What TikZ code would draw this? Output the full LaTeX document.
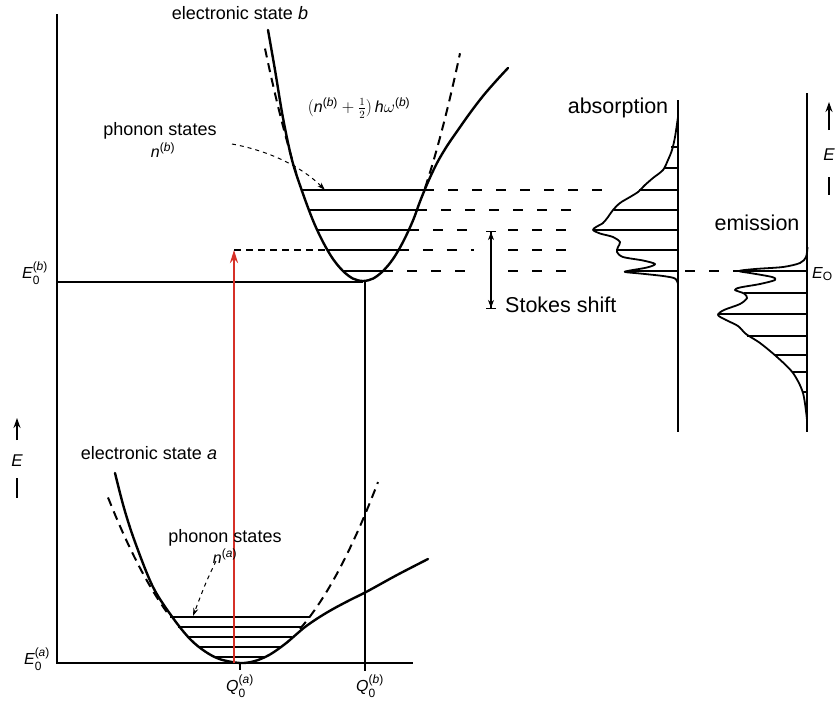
\documentclass[tikz,border=0pt]{standalone}
\usepackage{amsmath}
\usepackage{fontspec}
\setmainfont{Liberation Sans}
\usetikzlibrary{arrows.meta}
\definecolor{redarrow}{RGB}{214,48,39}
\newcommand\upsc[1]{\text{\fontsize{12}{13}\selectfont #1}}
\begin{document}
\begin{tikzpicture}[x=1pt,y=-1pt,
  axis/.style={line width=1.2pt},
  curve/.style={line width=2.4pt, line join=round, line cap=round},
  harm/.style={line width=2pt, dash pattern=on 9pt off 6pt},
  lvl/.style={line width=1.1pt},
  dlvl/.style={line width=1.1pt, dash pattern=on 10pt off 14pt},
  lbl/.style={font=\fontsize{18}{20}\selectfont, inner sep=0pt},
  big/.style={font=\fontsize{21.5}{24}\selectfont, inner sep=0pt},
  mlbl/.style={font=\fontsize{16}{18}\selectfont, inner sep=0pt},
  spec/.style={line width=1.8pt, line join=round},
  tipS/.style={-{Stealth[length=10pt,width=7pt]}},
]
\useasboundingbox (0,0) rectangle (835,704);

% axes
\draw[axis] (57,14) -- (57,663) -- (413,663);
\draw[axis] (57,282) -- (363,282);
\draw[axis] (365,282) -- (365,671);
\draw[axis] (240,663) -- (240,670);

% state b
\draw[curve] plot[smooth, tension=0.55] coordinates {(268,30) (275,70) (283,118) (292,160) (302,191) (313,220.5) (323,242) (333,259) (343,271) (353,278.6) (363,281) (373,278.6) (383,271) (393,259) (403,242) (413,220.5) (420,201.5) (428,182) (437,163) (447,146) (458,130) (470,113) (483,96) (496,81) (508,68)};
\draw[harm] plot[domain=265:298, samples=20] (\x, {281-(0.15556*(\x-363))^2});
\draw[harm] plot[domain=425:460, samples=20] (\x, {281-(0.15556*(\x-363))^2});
\foreach \y/\xl/\xr in {190/302/424, 210/308.8/417.2, 230/317.1/408.9, 250/327.2/398.8, 271/342.7/383.3}
  \draw[lvl] (\xl,\y) -- (\xr,\y);

% state a
\draw[curve] plot[smooth, tension=0.55] coordinates {(115,473) (124,508) (135,542) (153,587) (173,618) (190,639) (205,651.4) (220,659.2) (240,663) (255,661) (270,654.5) (285,644) (295,635.5) (305,627) (318,618) (333,609) (350,600) (367,591.5) (397,575) (428,559)};
\draw[harm] plot[domain=108:170, samples=20] (\x, {663-(0.09747*(\x-240))^2});
\draw[harm] plot[domain=300:378, samples=20] (\x, {663-(0.09747*(\x-240))^2});
\foreach \y/\xl/\xr in {617/170.4/309.6, 627/178.4/301.6, 637/187.7/292.3, 647/199/281, 657/214.9/265.1}
  \draw[lvl] (\xl,\y) -- (\xr,\y);

% red absorption arrow
\coordinate (qa) at (234,663);
\coordinate (ab) at (234,250);
\draw[redarrow, line width=2.2pt, -{Stealth[length=13pt,width=8pt]}] (qa) -- (ab);
\draw[line width=1.1pt, dash pattern=on 7pt off 5pt] (ab) -- (327.2,250);

% dashed levels to the spectra
\draw[dlvl] (424,190) -- (605,190);
\draw[dlvl] (417,210) -- (573,210);
\draw[dlvl] (409,230) -- (474,230);
\draw[dlvl] (508,230) -- (573,230);
\draw[dlvl] (398.8,250) -- (474,250);
\draw[dlvl] (508,250) -- (573,250);
\draw[dlvl] (383,271) -- (474,271);
\draw[dlvl] (508,271) -- (575,271);
\draw[dlvl] (685,271) -- (740,271);

% Stokes shift
\coordinate (st) at (491,231);
\coordinate (sb) at (491,309);
\draw[line width=1.1pt, {Bar[width=10pt]Stealth[length=8pt,width=6pt]}-{Stealth[length=8pt,width=6pt]Bar[width=10pt]}] (st) -- (sb);
\node[big, anchor=west] (stokes) at (505,305) {Stokes shift};

% absorption spectrum
\draw[axis] (678,100) -- (678,432);
\draw[spec] plot[smooth, tension=0.5] coordinates {(678,117) (675,137) (672,150) (668,160) (663,170) (653,178) (645,185) (638,192) (630,197) (620,203) (613,210) (608,217) (603,223) (596,227) (593,230) (600,233.5) (613,237) (620,242) (618,247) (617,252) (623,257) (643,260.5) (655,264) (647,267.5) (630,270.5) (625,272) (640,273.5) (663,276) (675,278.5) (678,284)};
\foreach \y/\xl in {147/671, 168/664, 190/639, 210/614, 230/594, 250/617, 271/627}
  \draw[lvl] (\xl,\y) -- (678,\y);
\node[big] (abs) at (618,108) {absorption};

% emission spectrum
\draw[axis] (807,93) -- (807,432);
\draw[spec] plot[smooth, tension=0.5] coordinates {(807.5,247) (806,257) (800,263) (783,267) (755,269) (739,271) (753,273.5) (772,277) (775,280) (760,284) (740,287.5) (735,290) (744,293.5) (747,298) (740,304) (724,310) (718,315) (726,320) (738,326) (746,334) (760,343) (777,357) (793,373) (803,393) (807,420)};
\foreach \y/\xl in {271/740, 293/744, 314/719, 336/747, 355/775, 372/792, 392/802}
  \draw[lvl] (\xl,\y) -- (807,\y);
\node[big] (emi) at (757,223) {emission};
\node[mlbl, anchor=west] (E0) at (812,274) {$\textit{E}_{\upsc{O}}$};

% energy arrows
\coordinate (ela) at (17,440); \coordinate (elb) at (17,418);
\draw[line width=1.5pt, tipS] (ela) -- (elb);
\node[mlbl, font=\fontsize{17}{18}\selectfont] (El) at (17,461) {\textit{E}};
\coordinate (elc) at (17,478); \coordinate (eld) at (17,498);
\draw[line width=1.5pt] (elc) -- (eld);
\coordinate (era) at (829,130); \coordinate (erb) at (829,102);
\draw[line width=1.5pt, tipS] (era) -- (erb);
\node[mlbl, font=\fontsize{17}{18}\selectfont] (Er) at (829,155) {\textit{E}};
\coordinate (erc) at (829,177); \coordinate (erd) at (829,195);
\draw[line width=1.5pt] (erc) -- (erd);

% labels
\node[lbl] (esb) at (240,13) {electronic state \textit{b}};
\node[lbl] (phb) at (160,131) {phonon states};
\node[mlbl] (nb) at (163,150) {$\textit{n}^{\upsc{(\textit{b})}}$};
\node[mlbl] (hw) at (359,108) {$(\textit{n}^{\upsc{(\textit{b})}}+\tfrac{1}{2})\,\textit{h}\omega^{\upsc{(\textit{b})}}$};
\node[lbl] (esa) at (149,453) {electronic state \textit{a}};
\node[lbl] (pha) at (225,538) {phonon states};
\node[mlbl] (na) at (225,556) {$\textit{n}^{\upsc{(\textit{a})}}$};
\node[mlbl] (E0b) at (35,273) {$\textit{E}^{\upsc{(\textit{b})}}_{\upsc{0}}$};
\node[mlbl] (E0a) at (37,659) {$\textit{E}^{\upsc{(\textit{a})}}_{\upsc{0}}$};
\node[mlbl] (Q0a) at (240,686) {$\textit{Q}^{\upsc{(\textit{a})}}_{\upsc{0}}$};
\node[mlbl] (Q0b) at (370,686) {$\textit{Q}^{\upsc{(\textit{b})}}_{\upsc{0}}$};

% dashed pointers
\coordinate (pbs) at (232,144);
\coordinate (pbe) at (325,190);
\draw[line width=1pt, dash pattern=on 4pt off 4pt, -{Stealth[length=8pt,width=5pt]}] (pbs) .. controls (275,152) and (305,170) .. (pbe);
\coordinate (pas) at (216,561);
\coordinate (pae) at (193,616);
\draw[line width=1pt, dash pattern=on 4pt off 4pt, -{Stealth[length=8pt,width=5pt]}] (pas) .. controls (206,582) .. (pae);
\end{tikzpicture}
\end{document}
